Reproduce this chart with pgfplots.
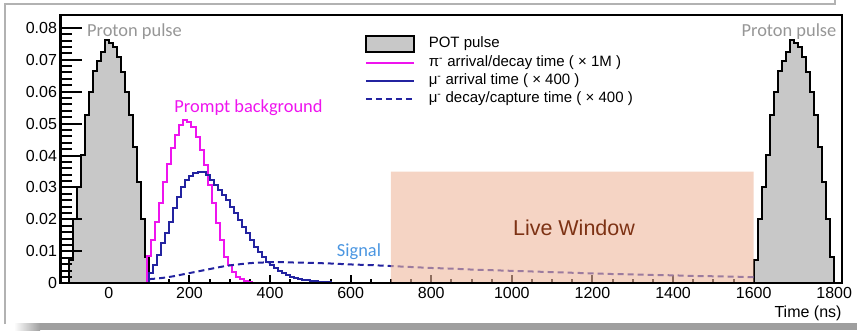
\documentclass[border=0pt]{standalone}
\usepackage{fontspec}
\setmainfont{Liberation Sans}
\newfontfamily\calibri{Carlito}
\usepackage{pgfplots}
\pgfplotsset{compat=1.18}
\definecolor{pulsegray}{RGB}{200,200,200}
\definecolor{pimag}{RGB}{238,20,238}
\definecolor{mublue}{RGB}{35,35,160}
\definecolor{livefill}{RGB}{238,183,157}
\definecolor{livetext}{RGB}{125,50,20}
\definecolor{annogray}{RGB}{150,150,150}
\definecolor{signalblue}{RGB}{75,150,225}
\newcommand\tickfont{\fontsize{16}{19}\selectfont}
\newcommand\legfont{\fontsize{15}{18}\selectfont}
\newcommand\annofont{\fontsize{18.4}{22}\selectfont}

\pgfplotstableread{
x y
-100 0.0073
-90 0.0200
-80 0.0300
-70 0.0402
-60 0.0527
-50 0.0600
-40 0.0665
-30 0.0697
-20 0.0725
-10 0.0763
0 0.0753
10 0.0741
20 0.0709
30 0.0662
40 0.0600
50 0.0527
60 0.0428
70 0.0318
80 0.0200
90 0.0083
100 0.0083
}\pulseA
\pgfplotstableread{
x y
1600 0.0073
1610 0.0200
1620 0.0300
1630 0.0402
1640 0.0527
1650 0.0600
1660 0.0665
1670 0.0697
1680 0.0725
1690 0.0763
1700 0.0753
1710 0.0741
1720 0.0709
1730 0.0662
1740 0.0600
1750 0.0527
1760 0.0428
1770 0.0318
1780 0.0200
1790 0.0083
1800 0.0083
}\pulseB
\pgfplotstableread{
x y
95 0
95 0.0085
105 0.0135
115 0.0193
125 0.0250
135 0.0318
145 0.0372
155 0.0425
165 0.0465
175 0.0495
185 0.0511
195 0.0506
205 0.0490
215 0.0459
225 0.0417
235 0.0370
245 0.0308
255 0.0250
265 0.0188
275 0.0136
285 0.0083
295 0.0057
305 0.0036
315 0.0021
325 0.0013
335 0.0008
345 0.0004
355 0.0002
365 0.0001
375 0.0000
385 0.0000
}\pion
\pgfplotstableread{
x y
100 0
100 0.0031
110 0.0057
120 0.0089
130 0.0125
140 0.0156
150 0.0193
160 0.0235
170 0.0271
180 0.0302
190 0.0323
200 0.0336
210 0.0344
220 0.0349
230 0.0348
240 0.0340
250 0.0323
260 0.0308
270 0.0292
280 0.0276
290 0.0260
300 0.0240
310 0.0219
320 0.0198
330 0.0177
340 0.0156
350 0.0136
360 0.0115
370 0.0099
380 0.0083
390 0.0068
400 0.0057
410 0.0047
420 0.0038
430 0.0031
440 0.0026
450 0.0021
460 0.0017
470 0.0014
480 0.0011
490 0.0009
500 0.0007
510 0.0006
520 0.0005
530 0.0004
540 0.0003
550 0.0002
560 0.00015
570 0.0001
580 0.00006
600 0.00004
620 0.00002
650 0.0
}\muarr
\pgfplotstableread{
x y
100 0.0013
120 0.0015
140 0.0018
160 0.0022
180 0.0027
200 0.0032
220 0.0037
240 0.0042
260 0.0047
280 0.0052
300 0.0056
320 0.0059
340 0.0062
360 0.0064
380 0.0065
400 0.0066
420 0.0066
440 0.0066
460 0.0065
480 0.0065
500 0.0064
550 0.0062
600 0.0059
650 0.0057
700 0.0054
750 0.0051
800 0.0048
850 0.0046
900 0.0043
950 0.0041
1000 0.0039
1050 0.0037
1100 0.0035
1150 0.0033
1200 0.0031
1250 0.0029
1300 0.0028
1350 0.0026
1400 0.0025
1450 0.0023
1500 0.0022
1550 0.0021
1600 0.0019
}\mudec

\pgfplotsset{
  baseaxis/.style={
    at={(60.5pt,46.7pt)}, anchor=south west, scale only axis,
    width=781.8pt, height=268.3pt,
    xmin=-120, xmax=1820, ymin=0, ymax=0.084,
    axis line style={line width=2pt, black},
    tick align=inside,
    tick style={line width=2pt, black},
    tick label style={font=\tickfont},
    scaled x ticks=false, scaled y ticks=false,
  },
}

\begin{document}
\begin{tikzpicture}
\useasboundingbox (0,0) rectangle (857pt,330pt);
% screenshot frame
\draw[gray!60, line width=2pt] (5pt,6pt) -- (5pt,326pt) -- (835pt,326pt) -- (835pt,330pt);
\shade[left color=white, right color=gray!75] (14pt,0pt) rectangle (40pt,7pt);
\fill[gray!75] (40pt,0pt) rectangle (857pt,7pt);

\begin{axis}[baseaxis,
  xtick={0,200,400,600,800,1000,1200,1400,1600,1800},
  xticklabels={0,200,400,600,800,1000,1200,1400,1600,1800},
  minor x tick num=3,
  xtick pos=left,
  ytick=\empty,
  major tick length=8pt, minor tick length=4pt,
  legend style={at={(0.389,0.925)}, anchor=north west, draw=none, fill=none,
    inner sep=0pt, font=\legfont, row sep=3pt, column sep=14pt,
    nodes={inner sep=0pt, text height=11pt, text depth=4pt}},
  legend cell align=left,
  legend image post style={xscale=2.81, yscale=2.75},
]
\addplot[const plot mark left, draw=black, line width=2pt, fill=pulsegray, area legend]
  table {\pulseA} \closedcycle;
\addlegendentry{POT pulse}
\addplot[const plot mark left, draw=black, line width=2pt, fill=pulsegray, forget plot]
  table {\pulseB} \closedcycle;
\addplot[const plot mark left, color=pimag, line width=2pt]
  table {\pion};
\addlegendentry{π\textsuperscript{-} arrival/decay time ( × 1M )}
\addplot[const plot mark left, color=mublue, line width=2pt]
  table {\muarr};
\addlegendentry{μ\textsuperscript{-} arrival time ( × 400 )}
\addplot[sharp plot, color=mublue, line width=2pt, dash pattern=on 6pt off 4pt]
  table {\mudec};
\addlegendentry{μ\textsuperscript{-} decay/capture time ( × 400 )}
\addplot[draw=none, fill=livefill, fill opacity=0.6, forget plot]
  coordinates {(700,0) (700,0.035) (1600,0.035) (1600,0)} \closedcycle;
\end{axis}

\begin{axis}[baseaxis,
  xtick=\empty,
  ytick={0,0.01,0.02,0.03,0.04,0.05,0.06,0.07,0.08},
  yticklabels={0,0.01,0.02,0.03,0.04,0.05,0.06,0.07,0.08},
  minor y tick num=4,
  ytick pos=left,
  major tick length=21pt, minor tick length=11pt,
]
\end{axis}

% annotations
\node[font=\calibri\annofont, text=annogray] at (134.5pt,298.3pt) {Proton pulse};
\node[font=\calibri\annofont, text=annogray] at (789pt,298.3pt) {Proton pulse};
\node[font=\calibri\annofont, text=pimag] at (248.5pt,222pt) {Prompt background};
\node[font=\calibri\annofont, text=signalblue] at (359pt,78.3pt) {Signal};
\node[font=\fontsize{21.5}{25}\selectfont, text=livetext] at (574pt,101.7pt) {Live Window};
\node[font=\tickfont, anchor=east, inner sep=0pt] at (841.7pt,17pt) {Time (ns)};
\end{tikzpicture}
\end{document}
